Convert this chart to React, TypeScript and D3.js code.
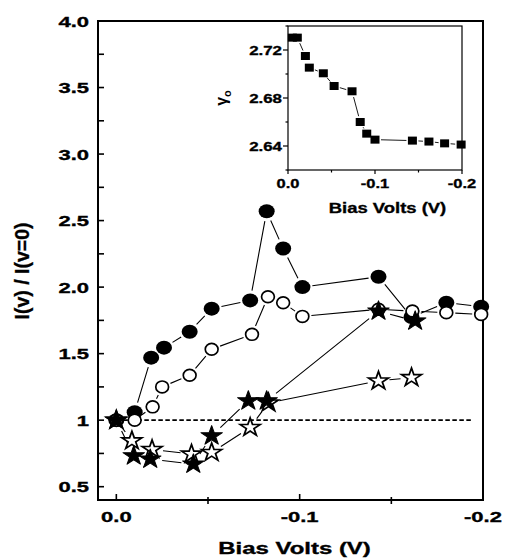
import React from 'react';
import * as d3 from 'd3';

// main panel: I(v)/I(v=0) vs bias
const biasA = [0, -0.01, -0.019, -0.026, -0.04, -0.052, -0.073, -0.082, -0.091, -0.1015, -0.143, -0.161, -0.18, -0.199];
const ratioA = [1, 1.06, 1.47, 1.545, 1.665, 1.838, 1.9, 2.57, 2.29, 2.0, 2.078, 1.775, 1.883, 1.853];
const biasB = [0, -0.01, -0.0198, -0.025, -0.04, -0.052, -0.074, -0.0827, -0.091, -0.1015, -0.143, -0.1615, -0.18, -0.199];
const ratioB = [1, 1.0, 1.1, 1.25, 1.338, 1.533, 1.645, 1.928, 1.883, 1.78, 1.833, 1.82, 1.808, 1.795];
const biasC = [0, -0.0095, -0.0185, -0.042, -0.052, -0.072, -0.082, -0.143, -0.163];
const ratioC = [1, 0.732, 0.707, 0.67, 0.882, 1.145, 1.145, 1.82, 1.745];
const biasD = [0, -0.0085, -0.0195, -0.041, -0.052, -0.073, -0.083, -0.143, -0.161];
const ratioD = [1, 0.845, 0.78, 0.745, 0.757, 0.945, 1.13, 1.295, 1.32];

const yTickValues = [0.5, 1, 1.5, 2, 2.5, 3, 3.5, 4];
const yTickLabels = ['0.5', '1', '1.5', '2.0', '2.5', '3.0', '3.5', '4.0'];
const yMinorValues = [0.75, 1.25, 1.75, 2.25, 2.75, 3.25, 3.75];
const xTickValues = [0, -0.1, -0.2];
const xTickLabels = ['0.0', '-0.1', '-0.2'];
const xMinorValues = [-0.05, -0.15];

// inset: gamma_o vs bias
const insetBias = [-0.005, -0.0107, -0.02, -0.0245, -0.0406, -0.053, -0.0736, -0.083, -0.0905, -0.1, -0.143, -0.162, -0.18, -0.199];
const insetGamma = [2.7303, 2.7303, 2.715, 2.7053, 2.7006, 2.69, 2.6856, 2.66, 2.6503, 2.6453, 2.6445, 2.6437, 2.6422, 2.6412];
const insetYTicks = [2.64, 2.68, 2.72];
const insetYMinor = [2.62, 2.66, 2.7, 2.74];
const insetXTicks = [0, -0.1, -0.2];
const insetXLabels = ['0.0', '-0.1', '-0.2'];
const insetXMinor = [-0.05, -0.15];

const FONT = 'Liberation Sans, Arial, Helvetica, sans-serif';

const x = d3.scaleLinear().domain([0.01, -0.2]).range([98, 483]);
const y = d3.scaleLinear().domain([0.4, 4.0]).range([500, 21]);
const ix = d3.scaleLinear().domain([0, -0.2]).range([288, 462]);
const iy = d3.scaleLinear().domain([2.62, 2.74]).range([170, 26]);

// connecting segments that stop short of the markers
function gappedPath(xs: number[], ys: number[], sx: any, sy: any, gap: number) {
  const pts = xs.map((v, i) => [sx(v), sy(ys[i])]);
  const p = d3.path();
  for (let i = 1; i < pts.length; i++) {
    const [x0, y0] = pts[i - 1];
    const [x1, y1] = pts[i];
    const dx = x1 - x0, dy = y1 - y0;
    const len = Math.hypot(dx, dy);
    if (len <= gap * 2 + 1) continue;
    const ux = dx / len, uy = dy / len;
    p.moveTo(x0 + ux * gap, y0 + uy * gap);
    p.lineTo(x1 - ux * gap, y1 - uy * gap);
  }
  return p.toString();
}

const filledStar = d3.symbol(d3.symbolStar, 10.8 * 10.8 / 0.8908)();
const openStar = d3.symbol(d3.symbolStar, 10 * 10 / 0.8908)();

const Label = ({ x, y, sx = 1.42, size = 15.5, anchor = 'middle', children }: any) => (
  <text
    transform={`translate(${x},${y}) scale(${sx},1)`}
    textAnchor={anchor}
    fontSize={size}
    fontWeight="bold"
    fontFamily={FONT}
    fill="#000"
    stroke="#000"
    strokeWidth={0.35}
  >
    {children}
  </text>
);

export default function App() {
  const lineStyle = { fill: 'none', stroke: '#000', strokeWidth: 1.1 };
  return (
    <div style={{ position: 'absolute', left: 0, top: 0 }}>
      <svg width={506} height={559} style={{ display: 'block', background: '#fff' }}>
        {/* main frame */}
        <rect x={98} y={21} width={385} height={479} fill="none" stroke="#000" strokeWidth={2} />

        {/* y ticks */}
        {yTickValues.map((v, i) => (
          <g key={'yt' + i}>
            <line x1={98} x2={104} y1={y(v)} y2={y(v)} stroke="#000" strokeWidth={1.6} />
            <Label x={89} y={y(v) + 5.5} anchor="end">{yTickLabels[i]}</Label>
          </g>
        ))}
        {yMinorValues.map((v, i) => (
          <line key={'ym' + i} x1={98} x2={104} y1={y(v)} y2={y(v)} stroke="#000" strokeWidth={1.6} />
        ))}

        {/* x ticks */}
        {xTickValues.map((v, i) => (
          <g key={'xt' + i}>
            <line x1={x(v)} x2={x(v)} y1={500} y2={494} stroke="#000" strokeWidth={1.6} />
            <Label x={x(v)} y={522}>{xTickLabels[i]}</Label>
          </g>
        ))}
        {xMinorValues.map((v, i) => (
          <line key={'xm' + i} x1={x(v)} x2={x(v)} y1={497} y2={504} stroke="#000" strokeWidth={1.6} />
        ))}

        <Label x={294.5} y={554} size={17} sx={1.41}>Bias Volts (V)</Label>
        <text
          transform="translate(29,271) rotate(-90)"
          textAnchor="middle"
          fontSize={19.5}
          fontWeight="bold"
          fontFamily={FONT}
          stroke="#000"
          strokeWidth={0.3}
        >
          I(v) / I(v=0)
        </text>

        {/* reference line at 1 */}
        <line x1={x(0)} x2={x(-0.194)} y1={y(1)} y2={y(1)} stroke="#000" strokeWidth={1.7} strokeDasharray="4.5,2.5" />

        {/* connecting lines */}
        <path d={gappedPath(biasA, ratioA, x, y, 10)} {...lineStyle} />
        <path d={gappedPath(biasB, ratioB, x, y, 9)} {...lineStyle} />
        <path d={gappedPath(biasD, ratioD, x, y, 11)} {...lineStyle} />
        <path d={gappedPath(biasC, ratioC, x, y, 12)} {...lineStyle} />

        {/* markers */}
        {biasA.map((v, i) => (
          <ellipse key={'a' + i} cx={x(v)} cy={y(ratioA[i])} rx={8} ry={7} fill="#000" />
        ))}
        {biasB.map((v, i) => (
          <ellipse key={'b' + i} cx={x(v)} cy={y(ratioB[i])} rx={6.4} ry={5.9} fill="#fff" stroke="#000" strokeWidth={1.7} />
        ))}
        {biasD.map((v, i) => (
          <path key={'d' + i} d={openStar!} transform={`translate(${x(v)},${y(ratioD[i])}) scale(1.05,0.95)`} fill="#fff" stroke="#000" strokeWidth={1.7} />
        ))}
        {biasC.map((v, i) => (
          <path key={'c' + i} d={filledStar!} transform={`translate(${x(v)},${y(ratioC[i])}) scale(1.05,0.95)`} fill="#000" stroke="#000" strokeWidth={1} strokeLinejoin="round" />
        ))}

        {/* inset */}
        <rect x={288} y={26} width={174} height={144} fill="#fff" stroke="#000" strokeWidth={1.2} />
        {insetYTicks.map((v, i) => (
          <g key={'iyt' + i}>
            <line x1={283} x2={288} y1={iy(v)} y2={iy(v)} stroke="#000" strokeWidth={1.2} />
            <Label x={282} y={iy(v) + 5} anchor="end" size={13.5} sx={1.25}>{v.toFixed(2)}</Label>
          </g>
        ))}
        {insetYMinor.map((v, i) => (
          <line key={'iym' + i} x1={285.5} x2={288} y1={iy(v)} y2={iy(v)} stroke="#000" strokeWidth={1.2} />
        ))}
        {insetXTicks.map((v, i) => (
          <g key={'ixt' + i}>
            <line x1={ix(v)} x2={ix(v)} y1={170} y2={174} stroke="#000" strokeWidth={1.2} />
            <Label x={ix(v)} y={188} size={13.5} sx={1.22}>{insetXLabels[i]}</Label>
          </g>
        ))}
        {insetXMinor.map((v, i) => (
          <line key={'ixm' + i} x1={ix(v)} x2={ix(v)} y1={170} y2={172.5} stroke="#000" strokeWidth={1.2} />
        ))}
        <Label x={387.5} y={213} size={15} sx={1.23}>Bias Volts (V)</Label>
        <text
          transform="translate(227,98) rotate(-90)"
          textAnchor="middle"
          fontSize={16}
          fontWeight="bold"
          fontFamily={FONT}
        >
          γ<tspan fontSize={11} dy={4}>o</tspan>
        </text>

        <path d={gappedPath(insetBias, insetGamma, ix, iy, 6)} fill="none" stroke="#000" strokeWidth={0.9} />
        {insetBias.map((v, i) => (
          <rect key={'s' + i} x={ix(v) - 4.5} y={iy(insetGamma[i]) - 4} width={9} height={8} fill="#000" />
        ))}
      </svg>
    </div>
  );
}
